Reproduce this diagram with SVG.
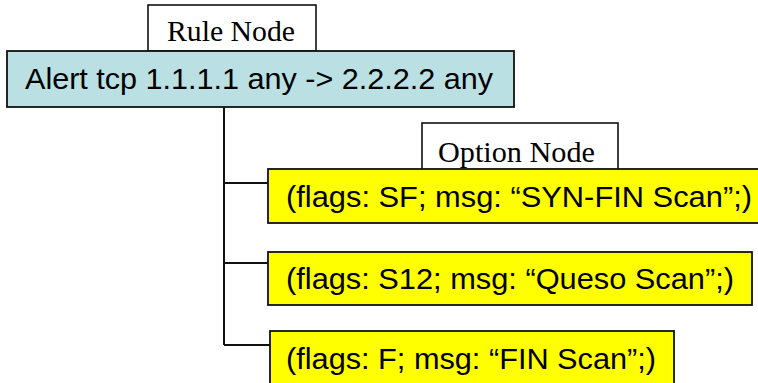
<svg xmlns="http://www.w3.org/2000/svg" width="758" height="383" viewBox="0 0 758 383">
<style>
.lbl{fill:#fff;stroke:#111;stroke-width:1.6}
.rule{fill:#BBE0E3;stroke:#111;stroke-width:1.8}
.opt{fill:#FFFF00;stroke:#111;stroke-width:1.8}
.serif{font-family:"Liberation Serif","Times New Roman",serif;font-size:29px;fill:#000}
.sans{font-family:"Liberation Sans",Arial,sans-serif;font-size:29.5px;fill:#000}
.conn{stroke:#111;stroke-width:2;fill:none}
</style>
<rect width="758" height="383" fill="#fff"/>
<g id="connectors">
<path class="conn" d="M224,107 V345 M224,183 H268 M224,263 H268 M224,345 H270"/>
</g>
<g id="rule-node-label">
<rect class="lbl" x="148" y="5" width="168" height="46"/>
<text class="serif" x="167" y="41" textLength="128" lengthAdjust="spacingAndGlyphs">Rule Node</text>
</g>
<g id="rule-node">
<rect class="rule" x="7" y="51" width="507" height="56"/>
<text class="sans" x="25" y="89" textLength="468" lengthAdjust="spacingAndGlyphs">Alert tcp 1.1.1.1 any -&gt; 2.2.2.2 any</text>
</g>
<g id="option-node-label">
<rect class="lbl" x="422" y="123" width="196" height="47"/>
<text class="serif" x="438" y="162" textLength="157" lengthAdjust="spacingAndGlyphs">Option Node</text>
</g>
<g id="option-1">
<rect class="opt" x="268" y="169" width="500" height="54"/>
<text class="sans" x="286" y="207" textLength="466" lengthAdjust="spacingAndGlyphs">(flags: SF; msg: “SYN-FIN Scan”;)</text>
</g>
<g id="option-2">
<rect class="opt" x="268" y="252" width="484" height="53"/>
<text class="sans" x="286" y="289" textLength="448" lengthAdjust="spacingAndGlyphs">(flags: S12; msg: “Queso Scan”;)</text>
</g>
<g id="option-3">
<rect class="opt" x="270" y="331" width="404" height="60"/>
<text class="sans" x="286" y="369" textLength="370" lengthAdjust="spacingAndGlyphs">(flags: F; msg: “FIN Scan”;)</text>
</g>
</svg>
